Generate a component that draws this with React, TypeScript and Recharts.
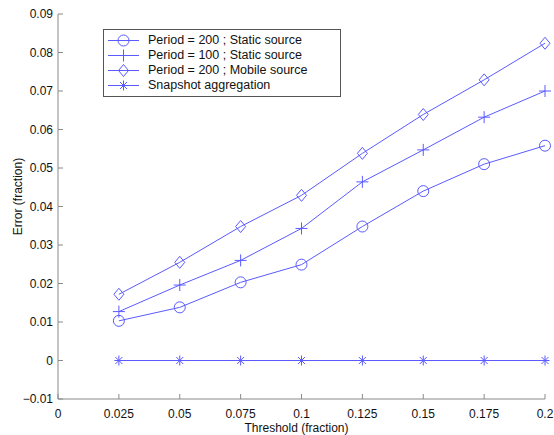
import React from 'react';
import { LineChart, Line, XAxis, YAxis } from 'recharts';

const thresholds = [0.025, 0.05, 0.075, 0.1, 0.125, 0.15, 0.175, 0.2];
const period200Static = [0.0103, 0.0138, 0.0203, 0.0249, 0.0348, 0.044, 0.051, 0.0558];
const period100Static = [0.0127, 0.0196, 0.026, 0.0343, 0.0464, 0.0547, 0.0632, 0.07];
const period200Mobile = [0.0172, 0.0255, 0.0348, 0.0429, 0.0538, 0.0639, 0.0729, 0.0824];
const snapshotAggregation = [0, 0, 0, 0, 0, 0, 0, 0];

const xTicks = [0, 0.025, 0.05, 0.075, 0.1, 0.125, 0.15, 0.175, 0.2];
const yTicks = [-0.01, 0, 0.01, 0.02, 0.03, 0.04, 0.05, 0.06, 0.07, 0.08, 0.09];

const seriesNames = [
  'Period = 200 ; Static source',
  'Period = 100 ; Static source',
  'Period = 200 ; Mobile source',
  'Snapshot aggregation',
];
const seriesKeys = ['p200s', 'p100s', 'p200m', 'snap'];
const seriesMarkers = ['circle', 'plus', 'diamond', 'star'];

const data = thresholds.map((x, i) => ({
  x,
  p200s: period200Static[i],
  p100s: period100Static[i],
  p200m: period200Mobile[i],
  snap: snapshotAggregation[i],
}));

const BLUE = '#5a5aff';
const AXIS = '#8a8a8a';
const FONT = '"Liberation Sans", Arial, Helvetica, sans-serif';

function markerShape(type: string, cx: number, cy: number, key?: any) {
  const common = { fill: 'none', stroke: BLUE, strokeWidth: 1 };
  if (type === 'circle') return <circle key={key} cx={cx} cy={cy} r={5.5} {...common} />;
  if (type === 'plus')
    return <path key={key} d={`M${cx - 6},${cy}H${cx + 6}M${cx},${cy - 6}V${cy + 6}`} {...common} />;
  if (type === 'diamond')
    return <path key={key} d={`M${cx},${cy - 6}L${cx + 5},${cy}L${cx},${cy + 6}L${cx - 5},${cy}Z`} {...common} />;
  return (
    <path
      key={key}
      d={`M${cx - 4.5},${cy}H${cx + 4.5}M${cx},${cy - 5}V${cy + 5}M${cx - 3.5},${cy - 3.5}L${cx + 3.5},${cy + 3.5}M${cx - 3.5},${cy + 3.5}L${cx + 3.5},${cy - 3.5}`}
      {...common}
    />
  );
}

const fmt = (v: number) => {
  const s = String(Number(v.toFixed(3)));
  return v < 0 ? '\u2212' + s.slice(1) : s;
};

function LegendBox() {
  return (
    <div
      style={{
        position: 'absolute',
        left: 103,
        top: 29,
        width: 236,
        height: 66,
        border: '1px solid #555',
        background: '#fff',
        fontFamily: FONT,
        fontSize: 12.5,
        color: '#111',
        boxSizing: 'content-box',
      }}
    >
      {seriesNames.map((name, i) => (
        <div
          key={name}
          style={{ position: 'absolute', left: 0, top: 3 + i * 15, height: 15, display: 'flex', alignItems: 'center' }}
        >
          <svg width={44} height={15} style={{ display: 'block' }}>
            <line x1={4} x2={35} y1={7.5} y2={7.5} stroke={BLUE} strokeWidth={1} />
            {markerShape(seriesMarkers[i], 19.5, 7.5)}
          </svg>
          <span style={{ whiteSpace: 'nowrap', lineHeight: '15px' }}>{name}</span>
        </div>
      ))}
    </div>
  );
}

export default function App() {
  const tickStyle = { fill: '#111', fontSize: 12, fontFamily: FONT };
  return (
    <div style={{ position: 'absolute', left: 0, top: 0, width: 554, height: 435, background: '#fff' }}>
      <LineChart width={554} height={435} data={data} margin={{ top: 14, right: 9, bottom: 0, left: 0 }}>
        <XAxis
          dataKey="x"
          type="number"
          domain={[0, 0.2]}
          ticks={xTicks}
          tickFormatter={fmt}
          height={36}
          stroke={AXIS}
          tickSize={-5}
          tickMargin={15}
          tick={tickStyle}
          interval={0}
          label={{ value: 'Threshold (fraction)', position: 'center', dy: 11, dx: -5, style: { fill: '#111', fontSize: 12, fontFamily: FONT } }}
        />
        <XAxis
          xAxisId="top"
          orientation="top"
          type="number"
          dataKey="x"
          domain={[0, 0.2]}
          ticks={xTicks}
          height={0}
          stroke={AXIS}
          tickSize={-5}
          tick={false}
        />
        <YAxis
          type="number"
          domain={[-0.01, 0.09]}
          ticks={yTicks}
          tickFormatter={fmt}
          width={58}
          stroke={AXIS}
          tickSize={-5}
          tickMargin={10}
          tick={tickStyle}
          interval={0}
          label={{ value: 'Error (fraction)', angle: -90, position: 'center', dx: -11, dy: -10, style: { fill: '#111', fontSize: 12, fontFamily: FONT, textAnchor: 'middle' } }}
        />
        <YAxis
          yAxisId="right"
          orientation="right"
          type="number"
          domain={[-0.01, 0.09]}
          ticks={yTicks}
          width={0}
          stroke={AXIS}
          tickSize={-5}
          tick={false}
        />
        {seriesKeys.map((k, i) => (
          <Line
            key={k}
            dataKey={k}
            type="linear"
            stroke={BLUE}
            strokeWidth={1}
            isAnimationActive={false}
            dot={(p: any) => markerShape(seriesMarkers[i], p.cx, p.cy, `${k}-${p.index}`)}
            activeDot={false}
          />
        ))}
      </LineChart>
      <LegendBox />
    </div>
  );
}
